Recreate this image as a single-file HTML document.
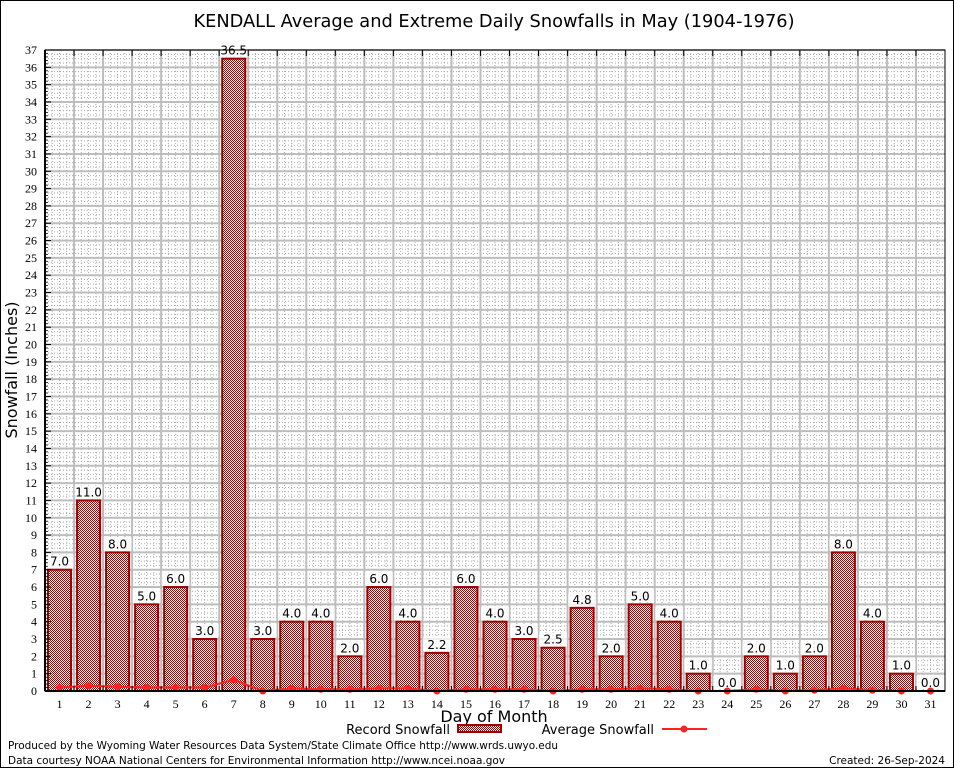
<!DOCTYPE html>
<html><head><meta charset="utf-8"><style>
html,body{margin:0;padding:0;background:#fff}
svg{display:block;font-family:"DejaVu Sans","Liberation Sans",sans-serif}
</style></head><body>
<svg id="chart" width="954" height="768" viewBox="0 0 954 768" xmlns="http://www.w3.org/2000/svg">
<defs>
<pattern id="chk" width="2" height="2" patternUnits="userSpaceOnUse">
<rect width="2" height="2" fill="#fff"/><rect width="1" height="1" fill="#b00000"/><rect x="1" y="1" width="1" height="1" fill="#b00000"/>
</pattern>
</defs>
<rect x="0.5" y="0.5" width="953" height="767" fill="#fff" stroke="#000"/>
<text x="494" y="27" font-size="17.8" text-anchor="middle">KENDALL Average and Extreme Daily Snowfalls in May (1904-1976)</text>
<g id="grid"></g>
<g id="bars"></g>
<g id="line"></g>
<g id="axes"></g>
<text transform="translate(17,370) rotate(-90)" font-size="16" text-anchor="middle">Snowfall (Inches)</text>
<text x="494" y="722" font-size="16" text-anchor="middle">Day of Month</text>
<g>
<text x="450" y="734" font-size="13" text-anchor="end">Record Snowfall</text>
<rect x="458" y="725" width="43" height="7" fill="url(#chk)" stroke="#a00000" stroke-width="2"/>
<text x="654" y="734" font-size="13" text-anchor="end">Average Snowfall</text>
<line x1="662" y1="729" x2="707" y2="729" stroke="#ff2020" stroke-width="2"/>
<circle cx="684" cy="729" r="3.5" fill="#ff2020"/>
</g>
<text x="8" y="749" font-size="10.5" textLength="550">Produced by the Wyoming Water Resources Data System/State Climate Office http://www.wrds.uwyo.edu</text>
<text x="8" y="764" font-size="10.5" textLength="497">Data courtesy NOAA National Centers for Environmental Information http://www.ncei.noaa.gov</text>
<text x="945" y="764" font-size="10.5" text-anchor="end">Created: 26-Sep-2024</text>
</svg>
<script>
const days = [1,2,3,4,5,6,7,8,9,10,11,12,13,14,15,16,17,18,19,20,21,22,23,24,25,26,27,28,29,30,31];
const recordSnow = [7.0,11.0,8.0,5.0,6.0,3.0,36.5,3.0,4.0,4.0,2.0,6.0,4.0,2.2,6.0,4.0,3.0,2.5,4.8,2.0,5.0,4.0,1.0,0.0,2.0,1.0,2.0,8.0,4.0,1.0,0.0];
const avgSnow = [0.2,0.3,0.25,0.2,0.2,0.2,0.65,0.0,0.15,0.1,0.1,0.15,0.15,0.0,0.1,0.1,0.1,0.0,0.1,0.1,0.15,0.1,0.0,0.0,0.1,0.0,0.05,0.15,0.05,0.0,0.0];
const yTicks = [0,1,2,3,4,5,6,7,8,9,10,11,12,13,14,15,16,17,18,19,20,21,22,23,24,25,26,27,28,29,30,31,32,33,34,35,36,37];

const NS="http://www.w3.org/2000/svg";
const L=45,R=945,T=50,B=691,YMAX=37;
const step=(R-L)/days.length;
const xC=i=>L+(i+0.5)*step;
const yS=v=>B-v/YMAX*(B-T);
function mk(tag,attrs,parent){const e=document.createElementNS(NS,tag);for(const k in attrs)e.setAttribute(k,attrs[k]);parent.appendChild(e);return e;}
const grid=document.getElementById('grid'),bars=document.getElementById('bars'),line=document.getElementById('line'),axes=document.getElementById('axes');

for(let v=0;v<YMAX;v+=0.25){const y=yS(v);const g=mk('line',{x1:L,x2:R,y1:y,y2:y,stroke:'#aaa','stroke-width':1,'stroke-dasharray':'1,2'},grid);

}
for(let i=0;i<days.length;i++){for(let k=1;k<4;k++){const x=L+i*step+k*step/4;const g=mk('line',{x1:x,x2:x,y1:T,y2:B,stroke:'#aaa','stroke-width':1,'stroke-dasharray':'1,2'},grid);

}}
yTicks.forEach(v=>{const y=yS(v);const g=mk('line',{x1:L,x2:R,y1:y,y2:y,stroke:'#bdbdbd','stroke-width':2},grid);

});
for(let i=1;i<days.length;i++){const x=L+i*step;const g=mk('line',{x1:x,x2:x,y1:T,y2:B,stroke:'#bdbdbd','stroke-width':2},grid);

}

days.forEach((d,i)=>{const v=recordSnow[i];const bw=23;const x=xC(i)-bw/2;const y=yS(v);
if(v>0){const r=mk('rect',{x:x,y:y,width:bw,height:B-y,fill:'url(#chk)',stroke:'#a00000','stroke-width':2},bars);

}
const bg=mk('rect',{x:xC(i)-14,y:y-15,width:28,height:13,fill:'#fff',opacity:0.75},bars);


const t=mk('text',{x:xC(i),y:y-4,'font-size':12,'text-anchor':'middle'},bars);t.textContent=v.toFixed(1);

});

const pts=avgSnow.map((v,i)=>xC(i)+','+yS(v)).join(' ');
const pl=mk('polyline',{points:pts,fill:'none',stroke:'#ff2020','stroke-width':2},line);


avgSnow.forEach((v,i)=>{const c=mk('circle',{cx:xC(i),cy:yS(v),r:3.5,fill:'#ff2020'},line);

});

const fr=mk('rect',{x:L,y:T,width:R-L,height:B-T,fill:'none',stroke:'#000','stroke-width':1},axes);


const xa=mk('line',{x1:L,x2:R,y1:B,y2:B,stroke:'#000','stroke-width':2},axes);


const ya=mk('line',{x1:L,x2:L,y1:T,y2:B,stroke:'#000','stroke-width':2},axes);


yTicks.forEach(v=>{const y=yS(v);
const tk=mk('line',{x1:L,x2:L+6,y1:y,y2:y,stroke:'#000'},axes);


const t=mk('text',{x:L-8,y:y+4,'font-size':12,'text-anchor':'end','font-family':'Liberation Serif, serif'},axes);t.textContent=v;

});
for(let v=0;v<YMAX;v+=0.2){const y=yS(v);const tk=mk('line',{x1:L,x2:L+3,y1:y,y2:y,stroke:'#000','stroke-width':0.8},axes);

}
days.forEach((d,i)=>{
const tk=mk('line',{x1:L+(i+1)*step,x2:L+(i+1)*step,y1:B,y2:B-5,stroke:'#000'},axes);


const tk2=mk('line',{x1:L+(i+1)*step,x2:L+(i+1)*step,y1:T,y2:T+6,stroke:'#000'},axes);


const t=mk('text',{x:xC(i),y:B+17,'font-size':12,'text-anchor':'middle','font-family':'Liberation Serif, serif'},axes);t.textContent=d;

});
</script>
</body></html>
